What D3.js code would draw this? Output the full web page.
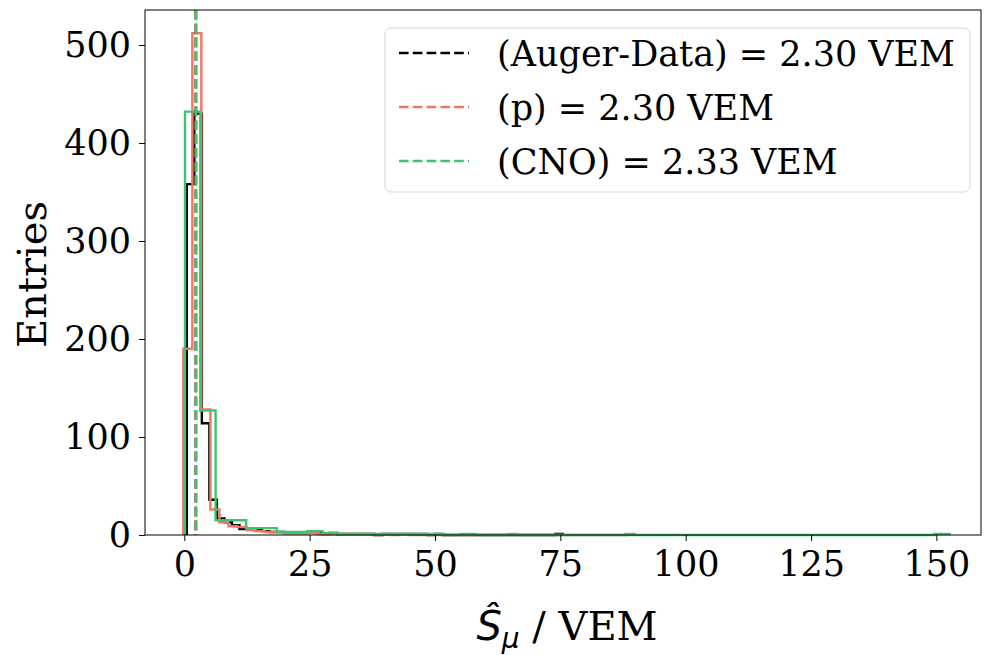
<!DOCTYPE html>
<html>
<head>
<meta charset="utf-8">
<script src="https://cdn.jsdelivr.net/npm/d3@7"></script>
<style>
  html, body { margin: 0; padding: 0; background: #ffffff; }
  svg { display: block; }
  text { font-family: "DejaVu Serif", serif; fill: #000; }
</style>
</head>
<body>
<script>
// Histogram of the reconstructed muon signal, three samples, 50 bins each.
const seriesNames = ["(Auger-Data) = 2.30 VEM", "(p) = 2.30 VEM", "(CNO) = 2.33 VEM"];
const seriesColors = ["#000000", "#f27461", "#3cc56e"];
const medians = [2.30, 2.30, 2.33];

// bin layout per sample: first edge and bin width (VEM)
const binStart = [0.5, -0.2, 0.14];
const binWidth = [1.5, 1.8, 3.05];

const countsData = [358, 430, 114, 36, 17, 13, 10, 6, 6, 5, 4, 3, 3, 2, 2, 2, 3, 2, 1, 2,
                    1, 1, 1, 1, 1, 0, 1, 1, 1, 1, 1, 1, 0, 1, 0, 0, 0, 0, 0, 0,
                    0, 0, 0, 0, 0, 0, 0, 0, 0, 1];
const countsP    = [190, 512, 128, 26, 13, 9, 8, 5, 4, 3, 3, 2, 2, 2, 2, 1, 1, 1, 1, 1,
                    1, 0, 1, 0, 1, 0, 0, 0, 0, 0, 0, 0, 0, 0, 0, 0, 1, 0, 0, 0,
                    0, 0, 0, 0, 0, 0, 0, 0, 0, 1];
const countsCNO  = [432, 127, 15, 15, 7, 7, 3, 3, 4, 2, 1, 1, 1, 1, 1, 1, 1, 0, 1, 0,
                    0, 0, 0, 0, 0, 0, 0, 0, 0, 0, 0, 0, 0, 0, 0, 0, 0, 0, 0, 0,
                    0, 0, 0, 0, 0, 0, 0, 0, 0, 1];
const allCounts = [countsData, countsP, countsCNO];

const xTicks = [0, 25, 50, 75, 100, 125, 150];
const yTicks = [0, 100, 200, 300, 400, 500];

const W = 984, H = 655;
const plot = { left: 145, right: 981, top: 10, bottom: 535 };

const svg = d3.select("body").append("svg").attr("width", W).attr("height", H);

const x = d3.scaleLinear().domain([-7.84, 158.9]).range([plot.left, plot.right]);
const y = d3.scaleLinear().domain([0, 535.7]).range([plot.bottom, plot.top]);

const g = svg.append("g");

// step outlines
const line = d3.line().x(d => x(d[0])).y(d => y(d[1]));
allCounts.forEach((counts, i) => {
  const pts = [[binStart[i], 0]];
  counts.forEach((c, k) => {
    const e0 = binStart[i] + k * binWidth[i];
    const e1 = e0 + binWidth[i];
    pts.push([e0, c], [e1, c]);
  });
  pts.push([binStart[i] + counts.length * binWidth[i], 0]);
  g.append("path").attr("d", line(pts))
    .attr("fill", "none").attr("stroke", seriesColors[i])
    .attr("stroke-width", 2.4).attr("stroke-linejoin", "miter");
});

// median markers
medians.forEach((m, i) => {
  g.append("line")
    .attr("x1", x(m)).attr("x2", x(m)).attr("y1", plot.top).attr("y2", plot.bottom)
    .attr("stroke", seriesColors[i]).attr("stroke-width", 2.6)
    .attr("stroke-dasharray", "9.6,4.2");
});

// frame
svg.append("rect").attr("x", plot.left).attr("y", plot.top)
  .attr("width", plot.right - plot.left).attr("height", plot.bottom - plot.top)
  .attr("fill", "none").attr("stroke", "#000").attr("stroke-width", 1);

// axes
const xAxis = d3.axisBottom(x).tickValues(xTicks).tickSize(6).tickPadding(10).tickFormat(d3.format("d"));
const yAxis = d3.axisLeft(y).tickValues(yTicks).tickSize(6).tickPadding(8).tickFormat(d3.format("d"));
const gx = svg.append("g").attr("transform", `translate(0,${plot.bottom})`).call(xAxis);
const gy = svg.append("g").attr("transform", `translate(${plot.left},0)`).call(yAxis);
[gx, gy].forEach(a => {
  a.select(".domain").remove();
  a.selectAll(".tick line").attr("stroke", "#000").attr("stroke-width", 1);
  a.selectAll(".tick text").style("font-family", "DejaVu Serif").style("font-size", "35px").attr("fill", "#000");
});

// axis titles
svg.append("text").attr("transform", `translate(46,${(plot.top + plot.bottom) / 2 + 2}) rotate(-90)`)
  .attr("text-anchor", "middle").style("font-size", "40px").text("Entries");

const xl = svg.append("text").attr("x", (plot.left + plot.right) / 2 + 4).attr("y", 640)
  .attr("text-anchor", "middle").style("font-size", "40px");
xl.append("tspan").style("font-family", "DejaVu Sans").style("font-style", "italic").text("Ŝ");
xl.append("tspan").style("font-family", "DejaVu Sans").style("font-style", "italic")
  .style("font-size", "28px").attr("dy", 8).text("μ");
xl.append("tspan").attr("dy", -8).text(" / VEM");

// legend
const lg = svg.append("g").attr("transform", "translate(385,28)");
lg.append("rect").attr("width", 585).attr("height", 164).attr("rx", 6)
  .attr("fill", "#fff").attr("fill-opacity", 0.8).attr("stroke", "#d6d6d6").attr("stroke-width", 1);
seriesNames.forEach((name, i) => {
  const yy = 25 + i * 54;
  lg.append("line").attr("x1", 14).attr("x2", 84).attr("y1", yy).attr("y2", yy)
    .attr("stroke", seriesColors[i]).attr("stroke-width", 2.6).attr("stroke-dasharray", "9.6,4.2");
  lg.append("text").attr("x", 112).attr("y", yy).attr("dy", "0.36em")
    .style("font-size", "35px").text(name);
});
</script>
</body>
</html>
